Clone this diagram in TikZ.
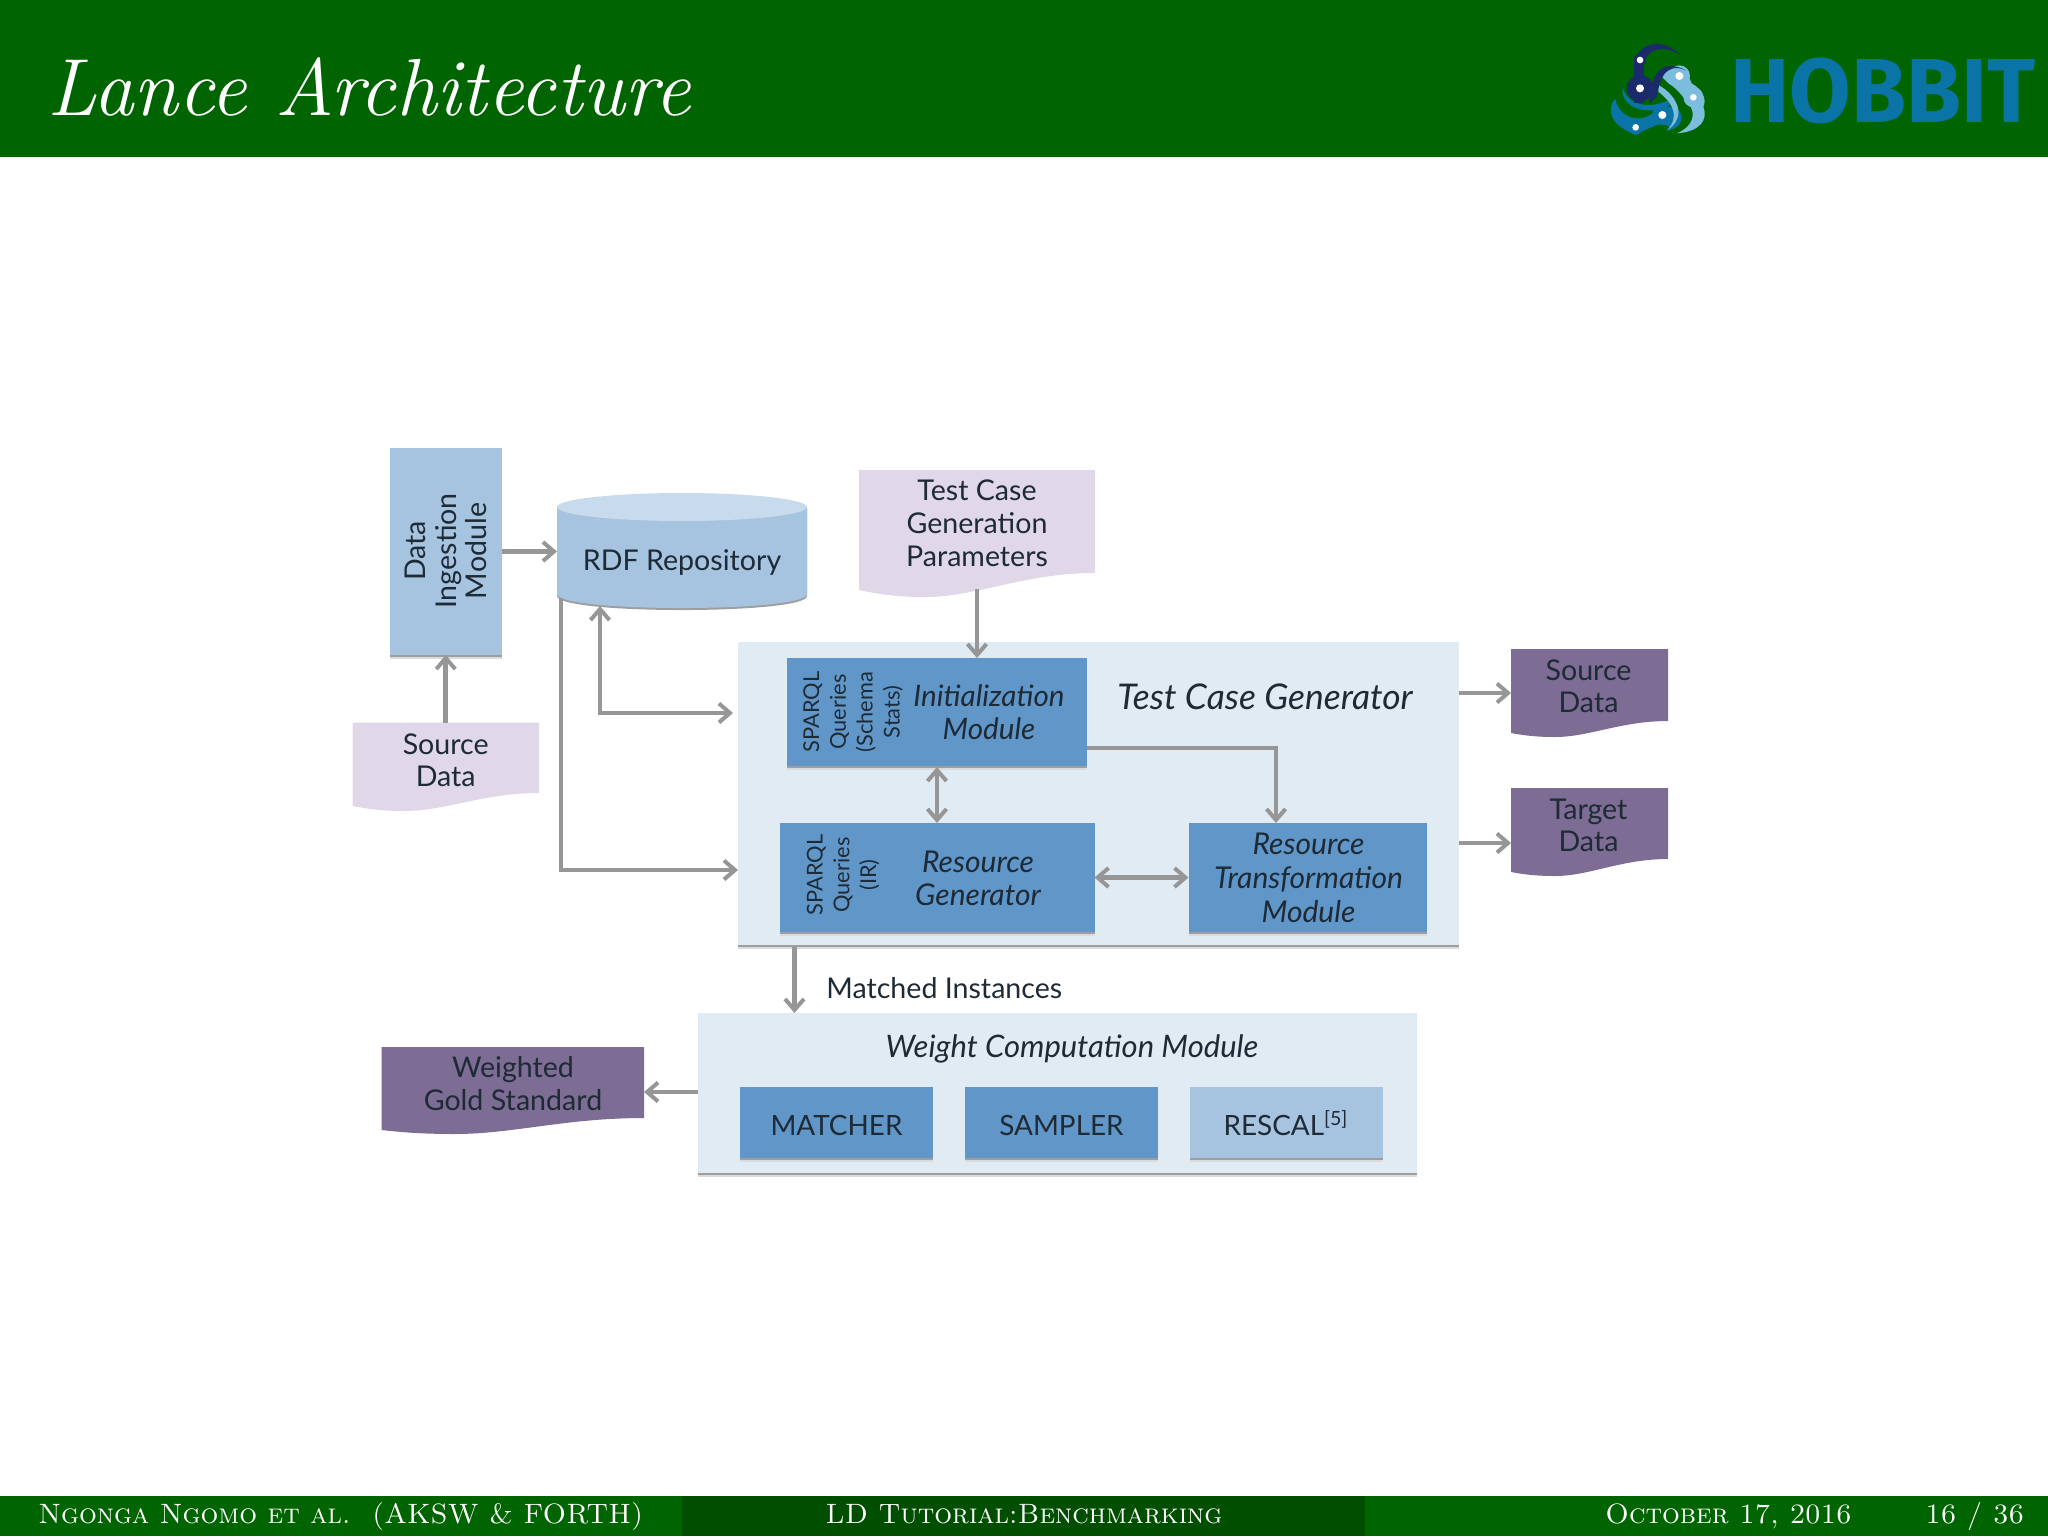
\documentclass[tikz,border=0pt]{standalone}
\usepackage{fontspec}
\newfontfamily\lat{Lato}
\newfontfamily\fir{Fira Sans}[BoldFont={Fira Sans Bold}]
\usetikzlibrary{arrows.meta,shadows}
\definecolor{hdr}{HTML}{006400}
\definecolor{ftr}{HTML}{004F00}
\definecolor{lightb}{HTML}{A6C4E0}
\definecolor{topb}{HTML}{C8DBEC}
\definecolor{midb}{HTML}{6097C8}
\definecolor{pale}{HTML}{E1EBF4}
\definecolor{lilac}{HTML}{E0D8E8}
\definecolor{plum}{HTML}{7D6C94}
\definecolor{txt}{HTML}{1E2A35}
\definecolor{conn}{HTML}{969696}
\definecolor{logot}{HTML}{0B74A6}
\definecolor{logol}{HTML}{7CBCDC}
\definecolor{logon}{HTML}{1B2A6B}
\tikzset{
  span/.style n args={4}{inner sep=0pt,outer sep=0pt,
    minimum width={(#3-#1)*0.5pt},minimum height={(#4-#2)*0.5pt},
    at={({(#1+#3)/2},{(#2+#4)/2})}},
  shad/.style={general shadow={shadow xshift=0pt,shadow yshift=-2.2pt,fill=black!14},
               general shadow={shadow xshift=0pt,shadow yshift=-1.2pt,fill=black!38}},
  light/.style={fill=lightb,shad},
  mid/.style={fill=midb,shad},
  panel/.style={fill=pale,shad},
  lbl/.style={font=\lat\fontsize{14.3}{16.2}\selectfont,text=txt,align=center,inner sep=0pt},
  ilbl/.style={font=\lat\itshape\fontsize{15}{16.5}\selectfont,text=txt,align=center,inner sep=0pt},
  vlbl/.style={font=\lat\fontsize{14.3}{15.2}\selectfont,text=txt,align=center,inner sep=0pt,rotate=90},
  slbl/.style={font=\lat\fontsize{10.9}{13.4}\selectfont,text=txt,align=center,inner sep=0pt,rotate=90},
  arr/.style={draw=conn,line width=2.3pt,
    arrows={-{Straight Barb[length=5.5pt,width=9.5pt,line width=2pt]}}},
  darr/.style={draw=conn,line width=2.3pt,
    arrows={{Straight Barb[length=5.5pt,width=9.5pt,line width=2pt]}-{Straight Barb[length=5.5pt,width=9.5pt,line width=2pt]}}},
  foot/.style={font=\fontsize{14}{16}\selectfont\scshape,text=white,anchor=base west,inner sep=0pt},
}
\newcommand{\docshape}[7]{%
  \fill[#7] (#1,#2) -- (#3,#2) -- (#3,#4)
    .. controls ({#3-0.3*(#3-#1)},#4) and ({#1+0.5*(#3-#1)},#6) .. ({#1+0.28*(#3-#1)},#6)
    .. controls ({#1+0.16*(#3-#1)},#6) and ({#1+0.08*(#3-#1)},{#5+(#6-#5)*0.6}) .. (#1,#5) -- cycle;}
\begin{document}
\begin{tikzpicture}[x=0.5pt,y=-0.5pt]
\useasboundingbox (0,0) rectangle (2048,1536);
% header and footer
\fill[hdr] (0,0) rectangle (2048,157);
\fill[hdr] (0,1496) rectangle (2048,1536);
\fill[ftr] (682,1496) rectangle (1365,1536);
\node[font=\itshape\fontsize{40.5}{46}\selectfont,text=white,anchor=base west,inner sep=0pt] (title) at (47,115) {Lance Architecture};
\node[foot] (fl) at (38,1523) {Ngonga Ngomo et al.\ \ (AKSW \& FORTH)};
\node[foot,anchor=base] (fc) at (1024,1523) {LD Tutorial:Benchmarking};
\node[foot] (fr) at (1605,1523) {October 17, 2016};
\node[foot] (fp) at (1925,1523) {16 / 36};
% logo
\begin{scope}[shift={(1560,0)},x=0.16667pt,y=-0.16667pt]
  \fill[logot] (188,262) .. controls (180,300) and (220,340) .. (290,330) .. controls (320,325) and (340,310) .. (345,295) .. controls (320,300) and (280,325) .. (240,312) .. controls (210,305) and (195,285) .. (188,262) -- cycle;
  \fill[logot] (165,295) .. controls (140,330) and (150,370) .. (210,397) .. controls (240,405) and (280,375) .. (300,372) .. controls (330,375) and (335,385) .. (320,392) .. controls (370,385) and (375,345) .. (350,325) .. controls (320,310) and (290,330) .. (270,345) .. controls (240,365) and (180,360) .. (165,295) -- cycle;
  \fill[logot] (227,382) circle (22);
  \fill[logot] (307,345) circle (30);
  \fill[logol] (300,225) .. controls (340,190) and (385,215) .. (395,250) .. controls (430,270) and (440,300) .. (430,320) .. controls (445,360) and (420,395) .. (350,400) .. controls (400,380) and (410,340) .. (385,310) .. controls (360,280) and (350,265) .. (325,250) -- cycle;
  \fill[logol] (295,255) .. controls (350,285) and (385,350) .. (320,392) .. controls (360,350) and (340,310) .. (295,275) -- cycle;
  \fill[logol] (358,228) circle (32);
  \fill[logol] (400,292) circle (30);
  \fill[logon] (222,170) rectangle (252,310);
  \fill[logon] (228,175) .. controls (240,130) and (310,110) .. (362,167) .. controls (320,135) and (270,140) .. (252,185) -- cycle;
  \fill[logon] (240,265) circle (40);
  \fill[logon] (240,180) circle (18);
  \fill[logon] (268,310) .. controls (270,230) and (300,170) .. (380,212) .. controls (320,185) and (300,230) .. (290,290) -- cycle;
  \fill[white] (240,180) circle (10);
  \fill[white] (240,265) circle (12);
  \fill[white] (358,228) circle (12);
  \fill[white] (400,292) circle (10);
  \fill[white] (307,345) circle (12);
  \fill[white] (227,382) circle (10);
\end{scope}
\node[font=\fir\bfseries\fontsize{45.5}{50}\selectfont,text=logot,inner sep=0pt,xscale=0.98] (hob) at (1883,91) {HOBBIT};
% panels
\node[panel,span={738}{642}{1459}{945}] (tcg) {};
\node[panel,span={698}{1013}{1417}{1173}] (wcm) {};
% Data ingestion
\node[light,span={389.5}{448}{502}{655}] (dim) {};
\node[vlbl] (dimt) at (446,551) {Data\\Ingestion\\Module};
% RDF cylinder
\fill[black!38] (557,509) -- (557,596) .. controls (557,614.7) and (807,614.7) .. (807,596) -- (807,509) -- cycle;
\fill[lightb] (557,507) -- (557,594) .. controls (557,612.7) and (807,612.7) .. (807,594) -- (807,507) -- cycle;
\fill[topb] (682,507) ellipse[x radius=125,y radius=14];
\node[span={557}{494}{807}{609}] (rdf) {};
\node[lbl] (rdft) at (682,563) {RDF Repository};
% documents
\docshape{859}{470}{1095}{573}{590}{597}{lilac}
\node[span={859}{470}{1095}{589}] (tcp) {};
\node[lbl] (tcpt) at (977,523) {Test Case\\[0.3pt]Generation\\[0.3pt]Parameters};
\docshape{352.5}{722.7}{539}{793}{806}{811}{lilac}
\node[span={352.5}{722.7}{539}{811}] (srcl) {};
\node[lbl] (srclt) at (445.7,760) {Source\\Data};
\docshape{1511}{649}{1668}{721}{733}{737}{plum}
\node[span={1511}{649}{1668}{737}] (srcd) {};
\node[lbl] (srcdt) at (1588.5,686.5) {Source\\Data};
\docshape{1511}{788}{1668}{859}{872}{876}{plum}
\node[span={1511}{788}{1668}{876}] (tgtd) {};
\node[lbl] (tgtdt) at (1588.5,825.5) {Target\\Data};
\docshape{381.5}{1047}{644}{1118}{1130}{1134}{plum}
\node[span={381.5}{1047}{644}{1134}] (wgs) {};
\node[lbl] (wgst) at (513,1083.5) {Weighted\\Gold Standard};
% inner boxes
\node[mid,span={787}{658}{1087}{766}] (init) {};
\node[mid,span={780}{823}{1094.5}{932}] (rg) {};
\node[mid,span={1188.5}{823}{1427}{932}] (rt) {};
\node[mid,span={740}{1087}{933}{1158}] (mat) {};
\node[mid,span={965}{1087}{1158}{1158}] (sam) {};
\node[light,span={1189.5}{1087}{1383}{1158}] (res) {};
\node[slbl] (initq) at (853,712) {SPARQL\\Queries\\(Schema\\Stats)};
\node[slbl] (rgq) at (843,875) {SPARQL\\Queries\\(IR)};
\node[ilbl,font=\lat\itshape\fontsize{14.8}{16.5}\selectfont] (initt) at (989,712.5) {Initialization\\Module};
\node[ilbl] (rgt) at (978,878) {Resource\\Generator};
\node[ilbl,font=\lat\itshape\fontsize{15}{17}\selectfont] (rtt) at (1308.5,877.5) {Resource\\Transformation\\Module};
\node[ilbl,font=\lat\itshape\fontsize{17.7}{19}\selectfont] (tcgt) at (1265,697) {Test Case Generator};
\node[ilbl,font=\lat\itshape\fontsize{15.5}{17}\selectfont] (wcmt) at (1072,1049) {Weight Computation Module};
\node[lbl,font=\lat\fontsize{13.95}{16}\selectfont] (matt) at (836.5,1125) {MATCHER};
\node[lbl,font=\lat\fontsize{13.95}{16}\selectfont] (samt) at (1061.5,1125) {SAMPLER};
\node[lbl,font=\lat\fontsize{13.95}{16}\selectfont] (rest) at (1286,1123) {RESCAL\textsuperscript{[5]}};
\node[lbl,anchor=west] (mit) at (826,988) {Matched Instances};
% connector ends
\coordinate (rdfA) at (600,606);
\coordinate (rdfB) at (561,598);
\coordinate (tcgA) at (733,713);
\coordinate (tcgB) at (738,870);
\coordinate (initE) at (1087,748);
\coordinate (rtN) at (1276,823);
\coordinate (initS) at (937,767);
\coordinate (tcgS) at (1459,693);
\coordinate (tcgT) at (1459,843);
\coordinate (tcgM) at (794.5,947);
\coordinate (wcmW) at (698,1092);
% connectors
\draw[arr] (dim.east) -- (rdf.west);
\draw[arr] (srcl.north) -- (srcl.north |- dim.south);
\draw[darr] (rdfA) |- (tcgA);
\draw[arr] (rdfB) |- (tcgB);
\draw[arr] (tcp.south) -- (tcp.south |- init.north);
\draw[darr] (initS) -- (initS |- rg.north);
\draw[arr] (initE) -| (rtN);
\draw[darr] (rg.east) -- (rt.west);
\draw[arr] (tcgS) -- (srcd.west);
\draw[arr] (tcgT) -- (tcgT -| tgtd.west);
\draw[arr,line width=2.8pt] (tcgM) -- (tcgM |- wcm.north);
\draw[arr] (wcmW) -- (wcmW -| wgs.east);
\end{tikzpicture}
\end{document}
